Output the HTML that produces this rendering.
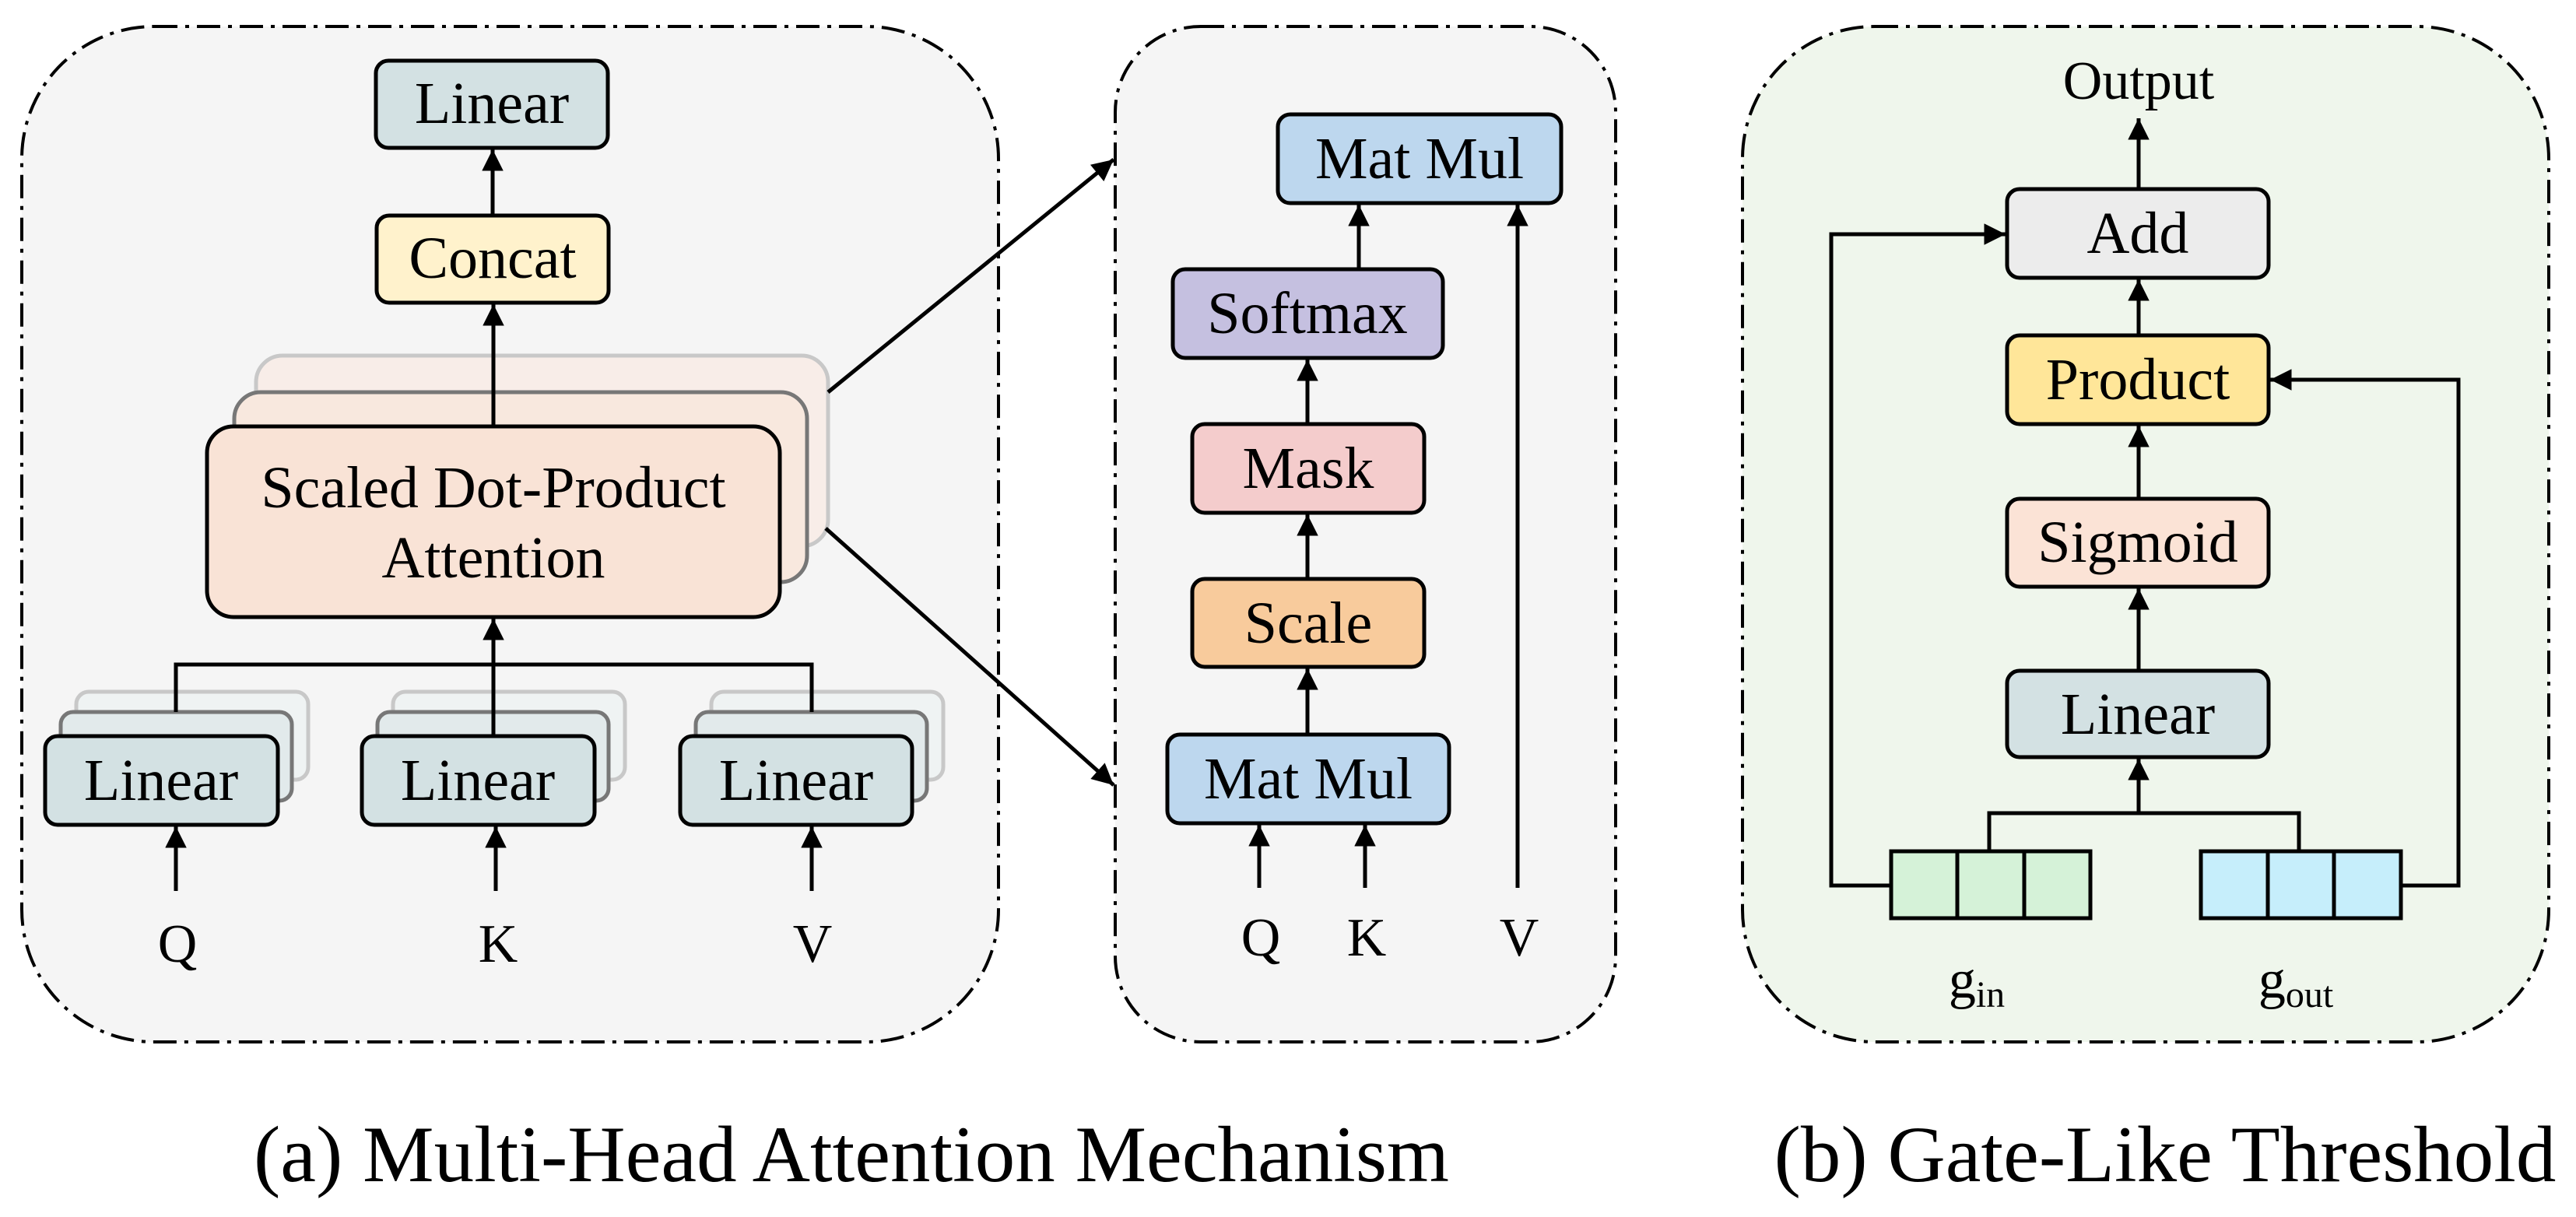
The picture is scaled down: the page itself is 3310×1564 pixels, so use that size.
<!DOCTYPE html>
<html><head><meta charset="utf-8"><style>
html,body{margin:0;padding:0;background:#fff;}
svg{display:block;}
svg text{font-family:"Liberation Serif","Times New Roman","DejaVu Serif",serif !important;fill:#000;}
</style></head><body>
<svg width="3310" height="1564" viewBox="0 0 3310 1564" xmlns="http://www.w3.org/2000/svg" font-family="'Liberation Serif', 'Times New Roman', serif">
<defs>
<marker id="ah" viewBox="0 0 10 10" refX="10" refY="5" markerWidth="6" markerHeight="5.5" markerUnits="strokeWidth" orient="auto">
<path d="M0,0 L10,5 L0,10 z" fill="#000"/></marker>
</defs>
<g stroke="#000" stroke-width="4" stroke-dasharray="30 10 5 10">
<rect x="28" y="34" width="1255" height="1305" rx="170" fill="#f5f5f5"/>
<rect x="1433" y="34" width="643" height="1305" rx="110" fill="#f5f5f5"/>
<rect x="2239" y="34" width="1036" height="1305" rx="170" fill="#eff6ec"/>
</g>
<g font-size="76" text-anchor="middle">
<rect x="483" y="78" width="298" height="112" rx="16" fill="#d3e1e3" stroke="#000" stroke-width="5"/>
<text x="632" y="158">Linear</text>
<rect x="484" y="277" width="298" height="112" rx="16" fill="#fff2cc" stroke="#000" stroke-width="5"/>
<text x="633" y="357">Concat</text>
<rect x="329" y="457" width="735" height="245" rx="34" fill="#f8ede8" stroke="#c8c8c8" stroke-width="5"/>
<rect x="301" y="504" width="736" height="244" rx="34" fill="#f8e8de" stroke="#777" stroke-width="5"/>
<rect x="266" y="548" width="736" height="245" rx="34" fill="#f9e3d6" stroke="#000" stroke-width="5"/>
<text x="634" y="652">Scaled Dot-Product</text>
<text x="634" y="742">Attention</text>
<rect x="98" y="889" width="298" height="113" rx="16" fill="#eff3f3" stroke="#c8c8c8" stroke-width="5"/>
<rect x="78" y="915" width="297" height="114" rx="16" fill="#e2eaeb" stroke="#777" stroke-width="5"/>
<rect x="58" y="946" width="299" height="114" rx="16" fill="#d3e1e3" stroke="#000" stroke-width="5"/>
<text x="207" y="1028">Linear</text>
<rect x="505" y="889" width="298" height="113" rx="16" fill="#eff3f3" stroke="#c8c8c8" stroke-width="5"/>
<rect x="485" y="915" width="297" height="114" rx="16" fill="#e2eaeb" stroke="#777" stroke-width="5"/>
<rect x="465" y="946" width="299" height="114" rx="16" fill="#d3e1e3" stroke="#000" stroke-width="5"/>
<text x="614" y="1028">Linear</text>
<rect x="914" y="889" width="298" height="113" rx="16" fill="#eff3f3" stroke="#c8c8c8" stroke-width="5"/>
<rect x="894" y="915" width="297" height="114" rx="16" fill="#e2eaeb" stroke="#777" stroke-width="5"/>
<rect x="874" y="946" width="298" height="114" rx="16" fill="#d3e1e3" stroke="#000" stroke-width="5"/>
<text x="1023" y="1028">Linear</text>
<text x="228" y="1236" font-size="70">Q</text>
<text x="640" y="1236" font-size="70">K</text>
<text x="1044" y="1236" font-size="70">V</text>
<rect x="1642" y="147" width="364" height="114" rx="16" fill="#bdd7ee" stroke="#000" stroke-width="5"/>
<text x="1824" y="229">Mat Mul</text>
<rect x="1507" y="346" width="347" height="114" rx="16" fill="#c5c0e0" stroke="#000" stroke-width="5"/>
<text x="1680" y="428">Softmax</text>
<rect x="1532" y="545" width="298" height="114" rx="16" fill="#f4cccc" stroke="#000" stroke-width="5"/>
<text x="1681" y="627">Mask</text>
<rect x="1532" y="744" width="298" height="113" rx="16" fill="#f8cb9c" stroke="#000" stroke-width="5"/>
<text x="1681" y="826">Scale</text>
<rect x="1500" y="944" width="362" height="114" rx="16" fill="#bdd7ee" stroke="#000" stroke-width="5"/>
<text x="1681" y="1026">Mat Mul</text>
<text x="1620" y="1228" font-size="70">Q</text>
<text x="1756" y="1228" font-size="70">K</text>
<text x="1952" y="1228" font-size="70">V</text>
<text x="2748" y="127" font-size="70">Output</text>
<rect x="2579" y="243" width="336" height="114" rx="16" fill="#ececec" stroke="#000" stroke-width="5"/>
<text x="2747" y="325">Add</text>
<rect x="2579" y="431" width="336" height="114" rx="16" fill="#ffe699" stroke="#000" stroke-width="5"/>
<text x="2747" y="513">Product</text>
<rect x="2579" y="641" width="336" height="113" rx="16" fill="#fbe3d6" stroke="#000" stroke-width="5"/>
<text x="2747" y="722">Sigmoid</text>
<rect x="2579" y="862" width="336" height="111" rx="16" fill="#d3e1e3" stroke="#000" stroke-width="5"/>
<text x="2747" y="943">Linear</text>
</g>
<g stroke="#000" stroke-width="5">
<rect x="2430" y="1094" width="85" height="86" fill="#d5f2d8"/>
<rect x="2515" y="1094" width="86" height="86" fill="#d5f2d8"/>
<rect x="2601" y="1094" width="85" height="86" fill="#d5f2d8"/>
<rect x="2828" y="1094" width="86" height="86" fill="#c6eefb"/>
<rect x="2914" y="1094" width="85" height="86" fill="#c6eefb"/>
<rect x="2999" y="1094" width="86" height="86" fill="#c6eefb"/>
</g>
<text x="2540" y="1282" font-size="70" text-anchor="middle">g<tspan font-size="48" dy="12">in</tspan></text>
<text x="2950" y="1282" font-size="70" text-anchor="middle">g<tspan font-size="48" dy="12">out</tspan></text>
<g stroke="#000" stroke-width="5" fill="none" marker-end="url(#ah)">
<line x1="633" y1="277" x2="633" y2="192"/>
<line x1="634" y1="548" x2="634" y2="391"/>
<line x1="634" y1="946" x2="634" y2="795"/>
<line x1="226" y1="1145" x2="226" y2="1062"/>
<line x1="637" y1="1145" x2="637" y2="1062"/>
<line x1="1043" y1="1145" x2="1043" y2="1062"/>
<line x1="1064" y1="504" x2="1431" y2="205"/>
<line x1="1061" y1="679" x2="1431" y2="1009"/>
<line x1="1746" y1="346" x2="1746" y2="263"/>
<line x1="1680" y1="545" x2="1680" y2="462"/>
<line x1="1680" y1="744" x2="1680" y2="661"/>
<line x1="1680" y1="944" x2="1680" y2="859"/>
<line x1="1618" y1="1141" x2="1618" y2="1060"/>
<line x1="1754" y1="1141" x2="1754" y2="1060"/>
<line x1="1950" y1="1141" x2="1950" y2="263"/>
<line x1="2748" y1="243" x2="2748" y2="152"/>
<line x1="2748" y1="431" x2="2748" y2="359"/>
<line x1="2748" y1="641" x2="2748" y2="547"/>
<line x1="2748" y1="862" x2="2748" y2="756"/>
<line x1="2748" y1="1045" x2="2748" y2="975"/>
<polyline points="2430,1138 2353,1138 2353,301 2577,301"/>
<polyline points="3085,1138 3159,1138 3159,488 2917,488"/>
</g>
<g stroke="#000" stroke-width="5" fill="none">
<polyline points="226,915 226,854 1043,854 1043,915"/>
<polyline points="2556,1094 2556,1045 2954,1045 2954,1094"/>
</g>
<text x="1094" y="1518" font-size="103" text-anchor="middle">(a) Multi-Head Attention Mechanism</text>
<text x="2782" y="1518" font-size="103" text-anchor="middle">(b) Gate-Like Threshold</text>
</svg>
</body></html>
